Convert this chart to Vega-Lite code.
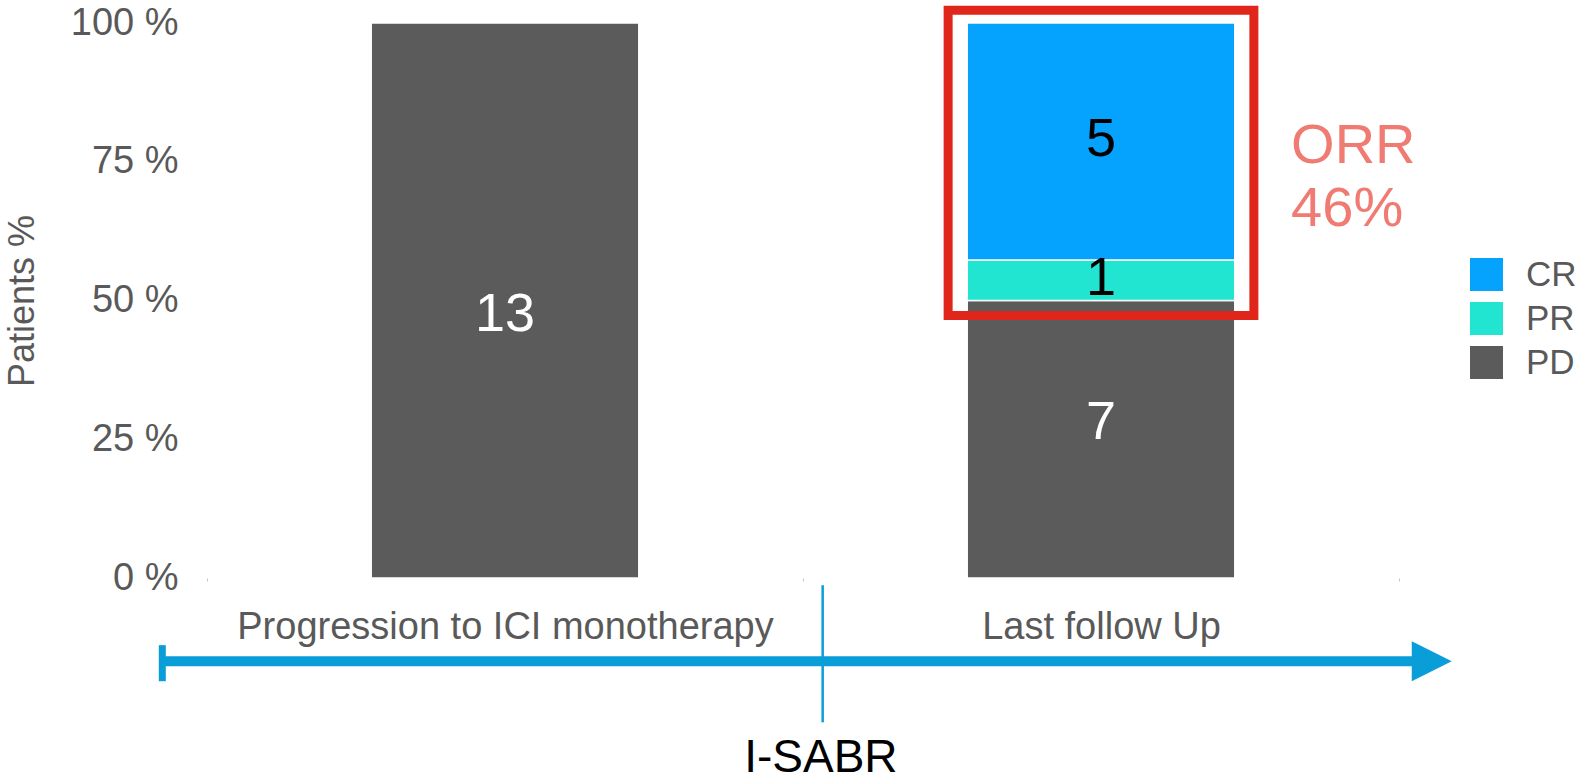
{
  "$schema": "https://vega.github.io/schema/vega-lite/v6.json",
  "width": 1192,
  "height": 555,
  "padding": {"left": 4, "top": 4, "right": 0, "bottom": 0},
  "config": {
    "view": {"stroke": null},
    "font": "Liberation Sans",
    "axis": {"labelFont": "Liberation Sans", "titleFont": "Liberation Sans"},
    "legend": {"labelFont": "Liberation Sans"}
  },
  "layer": [
    {
      "layer": [
        {
          "data": {
            "values": [
              {"stage": "Progression to ICI monotherapy", "status": "PD", "pct": 100, "n": 13, "rank": 1},
              {"stage": "Last follow Up", "status": "PD", "pct": 50, "n": 7, "rank": 1},
              {"stage": "Last follow Up", "status": "PR", "pct": 7.3, "n": 1, "rank": 2},
              {"stage": "Last follow Up", "status": "CR", "pct": 42.7, "n": 5, "rank": 3}
            ],
            "name": "bars"
          },
          "transform": [
            {"stack": "pct", "groupby": ["stage"], "sort": [{"field": "rank"}], "as": ["y0", "y1"]}
          ],
          "layer": [
            {
              "mark": {"type": "bar", "width": {"band": 0.449}, "stroke": "white", "strokeWidth": 1.5},
              "encoding": {
                "x": {
                  "field": "stage", "type": "nominal",
                  "sort": ["Progression to ICI monotherapy", "Last follow Up"],
                  "scale": {"paddingInner": 0, "paddingOuter": 0},
                  "axis": {
                    "title": null, "domain": false, "grid": false, "labelAngle": 0, "labelLimit": 0,
                    "ticks": true, "tickBand": "extent", "tickSize": 3, "tickColor": "#c8c8c8", "tickWidth": 1,
                    "labelFontSize": 38, "labelColor": "#595959", "labelPadding": 27
                  }
                },
                "y": {
                  "field": "y0", "type": "quantitative",
                  "scale": {"domain": [0, 100], "nice": false},
                  "title": "Patients %",
                  "axis": {
                    "title": "Patients %", "values": [0, 25, 50, 75, 100],
                    "labelExpr": "datum.value + ' %'",
                    "domain": false, "ticks": false, "grid": false,
                    "labelFontSize": 38, "labelColor": "#595959", "labelPadding": 29,
                    "titleFontSize": 36, "titleColor": "#595959", "titleFontWeight": "normal", "titlePadding": 29
                  }
                },
                "y2": {"field": "y1"},
                "color": {
                  "field": "status", "type": "nominal",
                  "scale": {"domain": ["CR", "PR", "PD"], "range": ["#05A2FE", "#22E5D1", "#5B5B5B"]},
                  "legend": {
                    "title": null, "orient": "none", "legendX": 1262, "legendY": 234,
                    "symbolType": "square", "symbolSize": 1089, "symbolStrokeWidth": 0, "symbolOpacity": 1,
                    "labelFontSize": 35, "labelColor": "#595959", "labelOffset": 22, "rowPadding": 8
                  }
                }
              }
            },
            {
              "transform": [
                {"fold": ["y0", "y1"], "as": ["edge", "v"]},
                {"aggregate": [{"op": "mean", "field": "v", "as": "ymid"}], "groupby": ["stage", "status", "n"]},
                {"filter": "datum.n === 13"}
              ],
              "mark": {"type": "text", "fontSize": 54, "color": "white", "dy": 14},
              "encoding": {
                "x": {"field": "stage", "type": "nominal", "sort": ["Progression to ICI monotherapy", "Last follow Up"]},
                "y": {"field": "ymid", "type": "quantitative", "title": "Patients %"},
                "text": {"field": "n"}
              }
            },
            {
              "transform": [
                {"fold": ["y0", "y1"], "as": ["edge", "v"]},
                {"aggregate": [{"op": "mean", "field": "v", "as": "ymid"}], "groupby": ["stage", "status", "n"]},
                {"filter": "datum.n === 7"}
              ],
              "mark": {"type": "text", "fontSize": 54, "color": "white", "dy": -16},
              "encoding": {
                "x": {"field": "stage", "type": "nominal", "sort": ["Progression to ICI monotherapy", "Last follow Up"]},
                "y": {"field": "ymid", "type": "quantitative", "title": "Patients %"},
                "text": {"field": "n"}
              }
            },
            {
              "transform": [
                {"fold": ["y0", "y1"], "as": ["edge", "v"]},
                {"aggregate": [{"op": "mean", "field": "v", "as": "ymid"}], "groupby": ["stage", "status", "n"]},
                {"filter": "datum.status !== 'PD'"}
              ],
              "mark": {"type": "text", "fontSize": 54, "color": "black", "dy": -1},
              "encoding": {
                "x": {"field": "stage", "type": "nominal", "sort": ["Progression to ICI monotherapy", "Last follow Up"]},
                "y": {"field": "ymid", "type": "quantitative", "title": "Patients %"},
                "text": {"field": "n"}
              }
            }
          ]
        },
        {
          "data": {"values": [{"stage": "Last follow Up", "lo": 47.3, "hi": 102.3}]},
          "mark": {"type": "bar", "width": {"band": 0.513}, "fill": null, "fillOpacity": 0, "stroke": "#E0251B", "strokeWidth": 9, "clip": false},
          "encoding": {
            "x": {"field": "stage", "type": "nominal", "sort": ["Progression to ICI monotherapy", "Last follow Up"]},
            "y": {"field": "lo", "type": "quantitative", "title": "Patients %"},
            "y2": {"field": "hi"}
          }
        }
      ]
    },
    {
      "data": {
        "values": [
          {"item": "shaft", "x": -0.079, "x2": 2.025, "y": -15},
          {"item": "cap", "x": -0.075, "y": -12.1, "y2": -18.6},
          {"item": "head", "x": 2.055, "y": -15},
          {"item": "isabr", "x": 1.033, "y": -1.3, "y2": -26},
          {"item": "isabr_label", "x": 1.03, "y": -32.5, "label": "I-SABR"},
          {"item": "orr", "x": 1.819, "y": 77.8, "label": "ORR"}
        ]
      },
      "layer": [
        {
          "transform": [{"filter": "datum.item === 'shaft'"}],
          "mark": {"type": "rule", "color": "#0A9ED9", "strokeWidth": 10},
          "encoding": {
            "x": {"field": "x", "type": "quantitative", "scale": {"domain": [0, 2], "nice": false, "zero": false}, "axis": null},
            "x2": {"field": "x2"},
            "y": {"field": "y", "type": "quantitative", "title": "Patients %"}
          }
        },
        {
          "transform": [{"filter": "datum.item === 'cap'"}],
          "mark": {"type": "rule", "color": "#0A9ED9", "strokeWidth": 7},
          "encoding": {
            "x": {"field": "x", "type": "quantitative", "axis": null},
            "y": {"field": "y", "type": "quantitative", "title": "Patients %"},
            "y2": {"field": "y2"}
          }
        },
        {
          "transform": [{"filter": "datum.item === 'head'"}],
          "mark": {"type": "point", "shape": "M-1,-1L1,0L-1,1Z", "size": 1600, "filled": true, "color": "#0A9ED9", "opacity": 1},
          "encoding": {
            "x": {"field": "x", "type": "quantitative", "axis": null},
            "y": {"field": "y", "type": "quantitative", "title": "Patients %"}
          }
        },
        {
          "transform": [{"filter": "datum.item === 'isabr'"}],
          "mark": {"type": "rule", "color": "#0A9ED9", "strokeWidth": 2.5},
          "encoding": {
            "x": {"field": "x", "type": "quantitative", "axis": null},
            "y": {"field": "y", "type": "quantitative", "title": "Patients %"},
            "y2": {"field": "y2"}
          }
        },
        {
          "transform": [{"filter": "datum.item === 'isabr_label'"}],
          "mark": {"type": "text", "fontSize": 46, "color": "black", "align": "center", "baseline": "middle"},
          "encoding": {
            "x": {"field": "x", "type": "quantitative", "axis": null},
            "y": {"field": "y", "type": "quantitative", "title": "Patients %"},
            "text": {"field": "label"}
          }
        },
        {
          "transform": [{"filter": "datum.item === 'orr'"}],
          "mark": {"type": "text", "fontSize": 56, "color": "#F07B73", "align": "left", "baseline": "middle", "lineHeight": 63, "text": ["ORR", "46%"]},
          "encoding": {
            "x": {"field": "x", "type": "quantitative", "axis": null},
            "y": {"field": "y", "type": "quantitative", "title": "Patients %"}
          }
        }
      ]
    }
  ],
  "resolve": {"scale": {"x": "independent"}}
}
